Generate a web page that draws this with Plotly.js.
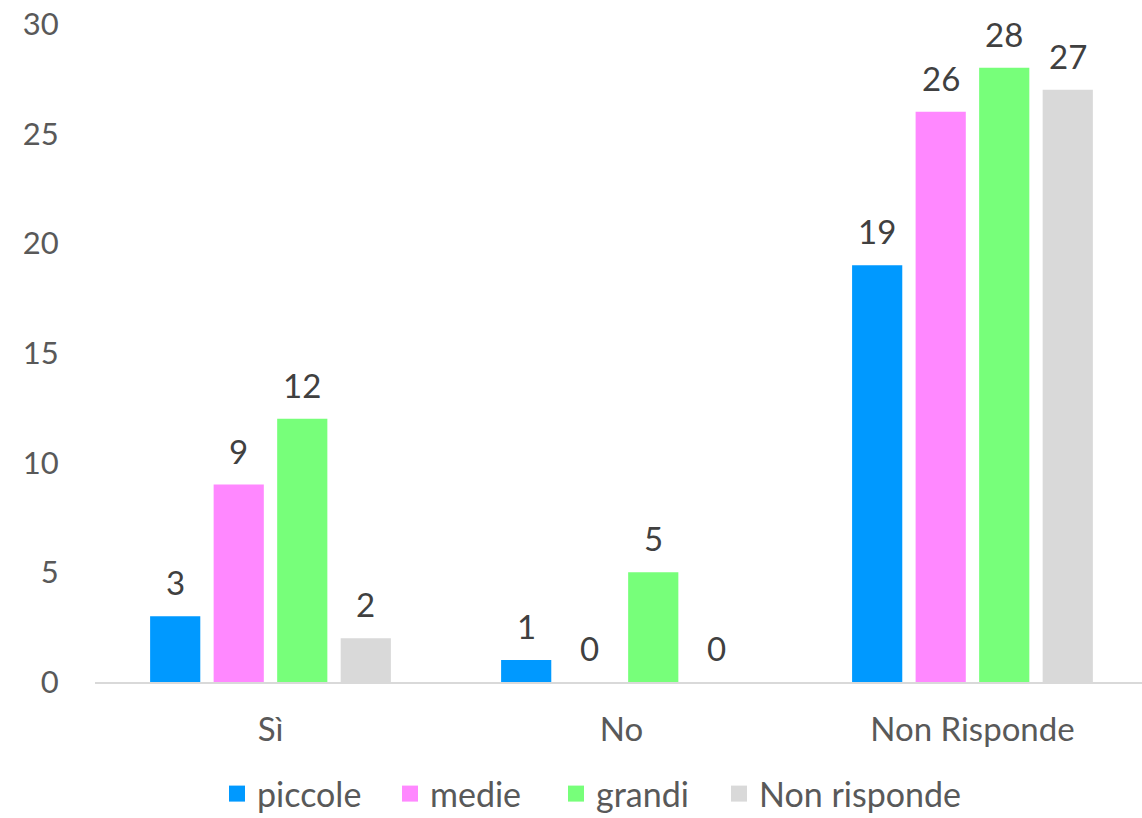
<!DOCTYPE html>
<html><head><meta charset="utf-8">
<script src="https://cdn.plot.ly/plotly-3.0.1.min.js"></script>
<style>html,body{margin:0;padding:0;background:#fff}#chart{width:1142px;height:818px}</style>
</head><body><div id="chart"></div>
<script>
const categories = ["Sì", "No", "Non Risponde"];
const seriesNames = ["piccole", "medie", "grandi", "Non risponde"];
const piccole = [3, 1, 19];
const medie = [9, 0, 26];
const grandi = [12, 5, 28];
const nonRisponde = [2, 0, 27];
const yTicks = [0, 5, 10, 15, 20, 25, 30];

const allSeries = [piccole, medie, grandi, nonRisponde];
const colors = ["#0099FF", "#FF88FF", "#77FF7A", "#D9D9D9"];
const font = "Lato, Carlito, Calibri, sans-serif";
const legendIds = ["legend", "legend2", "legend3", "legend4"];
const legendLeft = [217, 390, 556, 719];

const traces = allSeries.map((vals, i) => ({
  type: "bar", name: seriesNames[i], x: categories, y: vals,
  marker: {color: colors[i]}, hoverinfo: "none", showlegend: false
}));
seriesNames.forEach((n, i) => traces.push({
  type: "scatter", mode: "markers", name: n, x: [null], y: [null], legend: legendIds[i],
  marker: {symbol: "square", size: 16, color: colors[i]}, showlegend: true, hoverinfo: "none"
}));

const bargap = 0.276, groupgap = 0.21;
const slot = (1 - bargap) / 4;
const annotations = [];
allSeries.forEach((vals, i) => {
  vals.forEach((v, j) => {
    annotations.push({
      x: j - (1 - bargap) / 2 + slot * (i + 0.5), xref: "x", y: v, yref: "y",
      text: String(v), showarrow: false, yanchor: "bottom", yshift: 12,
      font: {family: font, size: 33, color: "#404040"}
    });
  });
});

const layout = {
  width: 1142, height: 818,
  margin: {l: 95, r: 0, t: 24, b: 136, autoexpand: false},
  paper_bgcolor: "#fff", plot_bgcolor: "#fff",
  barmode: "group", bargap: bargap, bargroupgap: groupgap,
  showlegend: true,
  xaxis: {range: [-0.5, 2.483], showline: true, linecolor: "#D9D9D9", linewidth: 1.5,
    showgrid: false, zeroline: false, ticks: "outside", ticklen: 18, tickcolor: "rgba(0,0,0,0)",
    tickfont: {family: font, size: 33, color: "#595959"}, fixedrange: true, automargin: false},
  yaxis: {range: [0, 30], tickvals: yTicks, showgrid: false, zeroline: false, showline: false,
    ticks: "outside", ticklen: 29, tickcolor: "rgba(0,0,0,0)",
    tickfont: {family: font, size: 31, color: "#595959"}, fixedrange: true, automargin: false},
  annotations: annotations,
  font: {family: font}
};
legendIds.forEach((id, i) => {
  layout[id] = {orientation: "h", x: legendLeft[i] / 1142, xref: "container", xanchor: "left",
    y: 24 / 818, yref: "container", yanchor: "middle", bgcolor: "rgba(0,0,0,0)",
    font: {family: font, size: 34, color: "#595959"}, itemwidth: 30, itemclick: false};
});
Plotly.newPlot("chart", traces, layout, {displayModeBar: false, staticPlot: true});
</script></body></html>
